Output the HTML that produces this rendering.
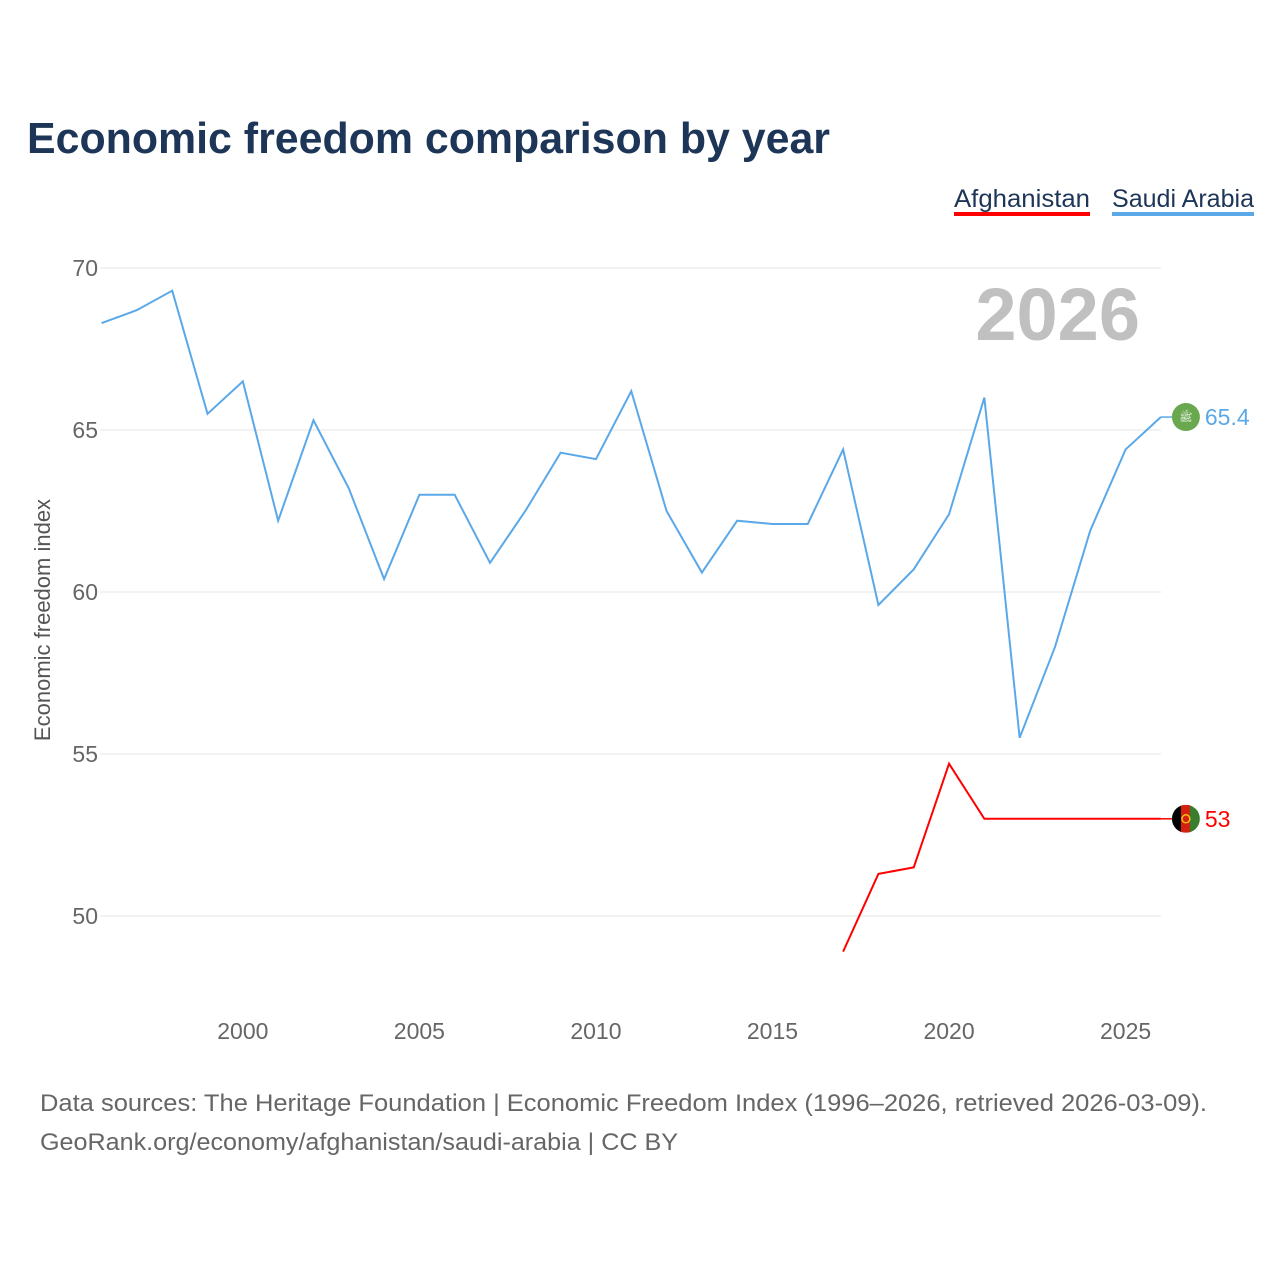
<!DOCTYPE html>
<html><head><meta charset="utf-8"><style>
body{margin:0;background:#fff;font-family:"Liberation Sans",sans-serif;}
</style></head><body>
<svg id="chart" width="1280" height="1280" xmlns="http://www.w3.org/2000/svg" font-family="Liberation Sans, sans-serif">
<rect width="1280" height="1280" fill="#fff"/>
<text x="27" y="153" font-size="44" font-weight="bold" fill="#1d3557" textLength="803" lengthAdjust="spacingAndGlyphs">Economic freedom comparison by year</text>
<g>
<text x="954" y="207" font-size="25" fill="#1d3557" textLength="136" lengthAdjust="spacingAndGlyphs">Afghanistan</text>
<rect x="954" y="212" width="136" height="4" fill="#ff0000"/></g>
<g>
<text x="1112" y="207" font-size="25" fill="#1d3557" textLength="142" lengthAdjust="spacingAndGlyphs">Saudi Arabia</text>
<rect x="1112" y="212" width="142" height="4" fill="#5ba8e8"/></g>
<text x="1140" y="340" text-anchor="end" font-size="74" font-weight="bold" fill="#c0c0c0">2026</text>
<text transform="translate(50,620) rotate(-90)" text-anchor="middle" font-size="22" fill="#555">Economic freedom index</text>
<g id="grid"></g><g id="series"></g>
<text x="40" y="1111" font-size="24" fill="#666" textLength="1167" lengthAdjust="spacingAndGlyphs">Data sources: The Heritage Foundation | Economic Freedom Index (1996–2026, retrieved 2026-03-09).</text>
<text x="40" y="1150" font-size="24" fill="#666" textLength="638" lengthAdjust="spacingAndGlyphs">GeoRank.org/economy/afghanistan/saudi-arabia | CC BY</text>
</svg>
<script>
const saudiYears=[1996,1997,1998,1999,2000,2001,2002,2003,2004,2005,2006,2007,2008,2009,2010,2011,2012,2013,2014,2015,2016,2017,2018,2019,2020,2021,2022,2023,2024,2025,2026];
const saudiValues=[68.3,68.7,69.3,65.5,66.5,62.2,65.3,63.2,60.4,63.0,63.0,60.9,62.5,64.3,64.1,66.2,62.5,60.6,62.2,62.1,62.1,64.4,59.6,60.7,62.4,66.0,55.5,58.3,61.9,64.4,65.4];
const afgYears=[2017,2018,2019,2020,2021,2022,2023,2024,2025,2026];
const afgValues=[48.9,51.3,51.5,54.7,53.0,53.0,53.0,53.0,53.0,53.0];
const yTicks=[50,55,60,65,70];
const xTicks=[2000,2005,2010,2015,2020,2025];
const NS="http://www.w3.org/2000/svg";
const x=v=>101.6+(v-1996)*35.31;
const y=v=>268+(70-v)*32.4;
const grid=document.getElementById('grid'),ser=document.getElementById('series');
function mk(tag,attrs,parent,txt){const e=document.createElementNS(NS,tag);for(const k in attrs)e.setAttribute(k,attrs[k]);if(txt!==undefined)e.textContent=txt;parent.appendChild(e);return e;}
yTicks.forEach(t=>{
 const l=mk('line',{x1:100,x2:1161,y1:y(t),y2:y(t),stroke:'#e6e6e6','stroke-width':1},grid);
 
 
 const tx=mk('text',{x:98,y:y(t)+8,'text-anchor':'end','font-size':23,fill:'#666'},grid,String(t));
 
 
});
xTicks.forEach(t=>{
 const tx=mk('text',{x:x(t),y:1039,'text-anchor':'middle','font-size':23,fill:'#666'},grid,String(t));
 
 
});
function line(years,vals,color,name,label,flag){
 const p=mk('polyline',{points:years.map((yr,i)=>x(yr)+','+y(vals[i])).join(' '),fill:'none',stroke:color,'stroke-width':2},ser);
 
 
 const lx=x(years[years.length-1]),ly=y(vals[vals.length-1]);
 mk('line',{x1:lx,x2:lx+15,y1:ly,y2:ly,stroke:color,'stroke-width':1.5},ser);
 const g=mk('g',{},ser);
 
 
 if(flag==='sa'){mk('circle',{cx:lx+25,cy:ly,r:14,fill:'#6aa84f'},g);mk('text',{x:lx+25,y:ly+4,'text-anchor':'middle','font-size':11,fill:'#fff'},g,'ﷺ');}
 else{mk('clipPath',{id:'cf'},g);
  const c=document.querySelector('#cf');mk('circle',{cx:lx+25,cy:ly,r:14},c);
  const gg=mk('g',{'clip-path':'url(#cf)'},g);
  mk('rect',{x:lx+11,y:ly-14,width:10,height:28,fill:'#000'},gg);
  mk('rect',{x:lx+20,y:ly-14,width:10,height:28,fill:'#d32011'},gg);
  mk('rect',{x:lx+29,y:ly-14,width:10,height:28,fill:'#3a7d2c'},gg);
  mk('circle',{cx:lx+25,cy:ly,r:4,fill:'none',stroke:'#f4c20d','stroke-width':1.5},gg);}
 const t=mk('text',{x:lx+44,y:ly+8,'font-size':23,fill:color},ser,label);
 
 
}
line(saudiYears,saudiValues,'#5ba8e8','saudi-arabia-line',String(saudiValues[saudiValues.length-1]),'sa');
line(afgYears,afgValues,'#ff0000','afghanistan-line',String(afgValues[afgValues.length-1]),'af');
</script>
</body></html>
